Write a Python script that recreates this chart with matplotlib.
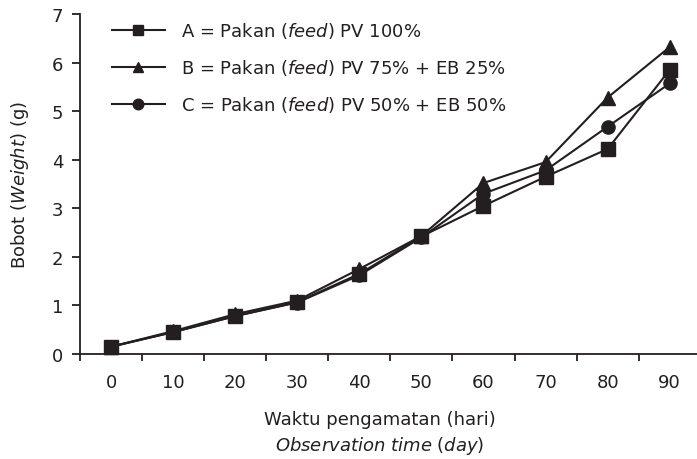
import matplotlib
matplotlib.use("Agg")
import matplotlib.pyplot as plt

plt.rcParams['font.family'] = ['DejaVu Sans']
plt.rcParams['mathtext.fontset'] = 'custom'
plt.rcParams['mathtext.rm'] = 'DejaVu Sans'
plt.rcParams['mathtext.it'] = 'DejaVu Sans:italic'

days = [0, 10, 20, 30, 40, 50, 60, 70, 80, 90]
series_a = [0.15, 0.45, 0.78, 1.07, 1.65, 2.42, 3.05, 3.65, 4.22, 5.85]
series_b = [0.15, 0.47, 0.82, 1.10, 1.75, 2.43, 3.52, 3.95, 5.28, 6.32]
series_c = [0.15, 0.45, 0.78, 1.06, 1.62, 2.40, 3.30, 3.78, 4.68, 5.57]
label_a = r'A = Pakan ($\it{feed}$) PV 100%'
label_b = r'B = Pakan ($\it{feed}$) PV 75% + EB 25%'
label_c = r'C = Pakan ($\it{feed}$) PV 50% + EB 50%'

INK = '#231f20'
fig = plt.figure(figsize=(6.97, 4.60), dpi=100)
ax = fig.add_axes([80/697, 105/460, 617/697, 340/460])

kw = dict(color=INK, lw=1.5, markersize=9.5, clip_on=False)
lb, = ax.plot(days, series_b, marker='^', label=label_b, zorder=3, **kw)
lc, = ax.plot(days, series_c, marker='o', label=label_c, zorder=4, **kw)
la, = ax.plot(days, series_a, marker='s', label=label_a, zorder=5, **kw)

ax.set_xlim(-5, 94.4)
ax.set_ylim(0, 7)
for s in ['top', 'right']:
    ax.spines[s].set_visible(False)
for s in ['left', 'bottom']:
    ax.spines[s].set_linewidth(1.3)
    ax.spines[s].set_color(INK)

ax.set_yticks(range(0, 8))
ax.set_xticks([-5 + 10 * i for i in range(10)])
ax.set_xticklabels([])
ax.set_xticks(days, minor=True)
ax.set_xticklabels([str(d) for d in days], minor=True)
ax.tick_params(axis='x', which='major', direction='out', length=5, width=1.3, color=INK)
ax.tick_params(axis='x', which='minor', length=0, pad=14, labelsize=13, labelcolor=INK)
ax.tick_params(axis='y', direction='out', length=6, width=1.3, color=INK, labelsize=13, labelcolor=INK, pad=6)

ax.set_ylabel(r'Bobot ($\it{Weight}$) (g)', fontsize=13, color=INK, labelpad=15)
fig.text(380/697, 1 - 420/460, 'Waktu pengamatan (hari)', ha='center', va='center', fontsize=13, color=INK)
fig.text(380/697, 1 - 446/460, r'$\it{Observation\ time}$ ($\it{day}$)', ha='center', va='center', fontsize=13, color=INK)

leg = ax.legend(handles=[la, lb, lc], loc='upper left', bbox_to_anchor=(0.026, 1.03), frameon=False,
                fontsize=13, handlelength=2.9, labelspacing=0.95, handletextpad=0.9, markerscale=0.8,
                labelcolor=INK)

fig.savefig('out.png', dpi=100)
